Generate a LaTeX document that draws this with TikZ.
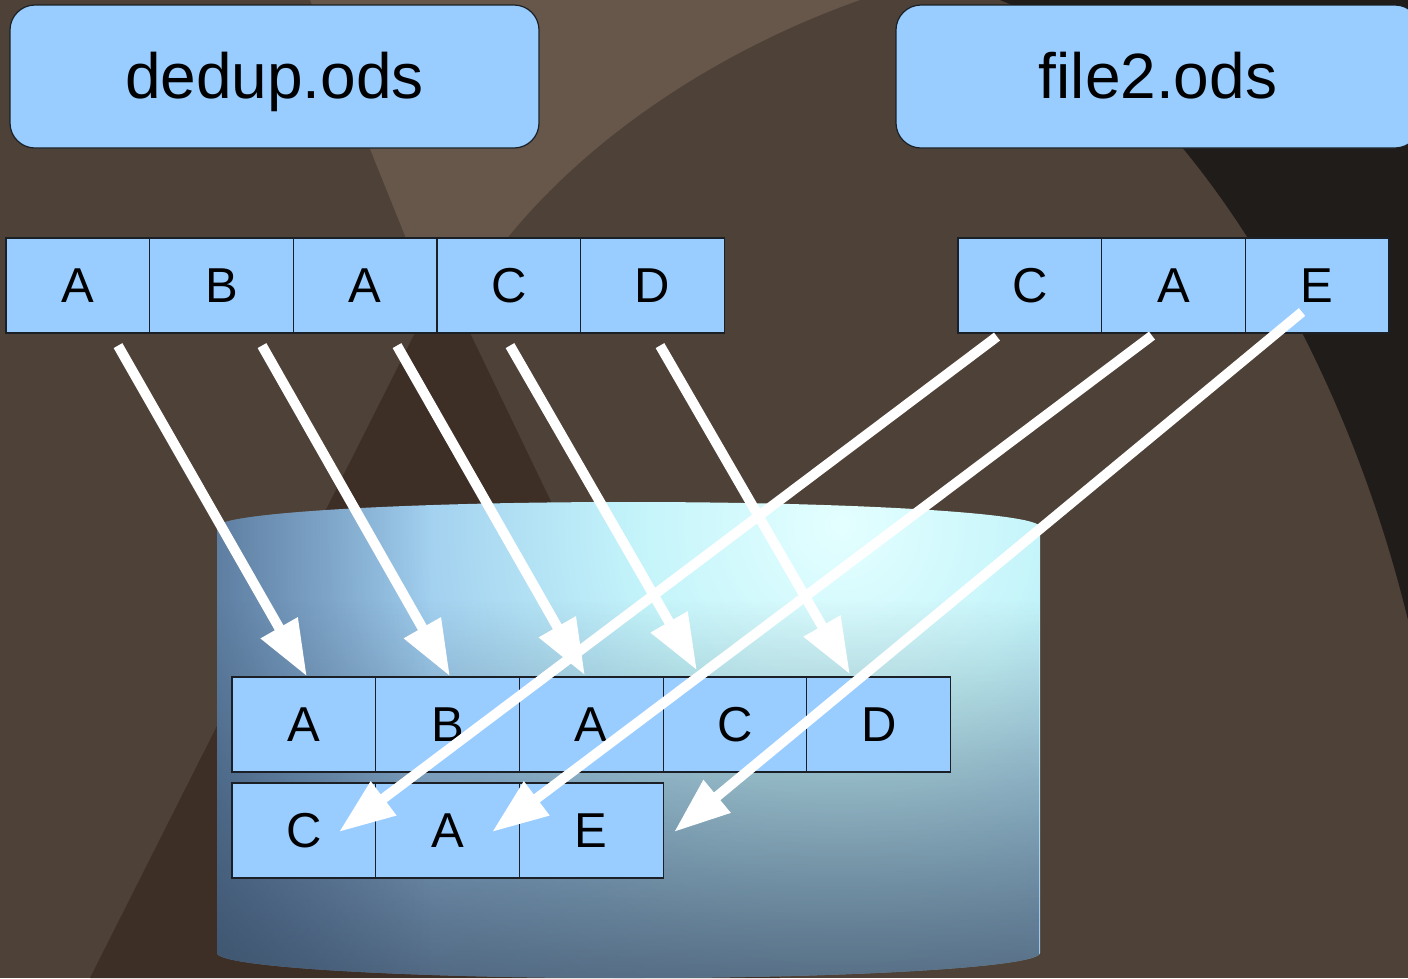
\documentclass[tikz,border=0pt]{standalone}
\usepackage{fontspec}
\setmainfont{Liberation Sans}
\usetikzlibrary{arrows.meta,fadings}
\definecolor{bgbase}{HTML}{4E4137}
\definecolor{bglight}{HTML}{67574A}
\definecolor{bgdark}{HTML}{3D2E26}
\definecolor{bgblack}{HTML}{1F1C1A}
\definecolor{cellfill}{HTML}{99CCFF}
\definecolor{cellline}{HTML}{1A2026}
\definecolor{cg0}{HTML}{E4FFFF}
\definecolor{cg1}{HTML}{C4F4FA}
\definecolor{cg2}{HTML}{9ECCEE}
\definecolor{cg3}{HTML}{88B2E2}
\definecolor{cg4}{HTML}{789ECC}
\definecolor{cg5}{HTML}{6084AE}
\definecolor{cg6}{HTML}{4A648C}
\definecolor{cyldark}{HTML}{2A3442}
\definecolor{cylleft}{HTML}{30465F}
\pgfdeclareradialshading{cylglow}{\pgfpointorigin}{color(0bp)=(cg0); color(6bp)=(cg1); color(13bp)=(cg2); color(20bp)=(cg3); color(28bp)=(cg4); color(37bp)=(cg5); color(50bp)=(cg6)}
\tikzfading[name=mydarkbottom, top color=transparent!100, bottom color=transparent!0]
\tikzfading[name=mydarkleft, left color=transparent!0, right color=transparent!100]
\tikzset{
  cell/.style={draw=cellline, fill=cellfill, line width=1.2pt, minimum width=143.7pt, minimum height=95pt, inner sep=0pt, font=\fontsize{49}{58}\selectfont},
  filebox/.style={draw=cellline, fill=cellfill, line width=1.2pt, rounded corners=25pt, minimum height=143pt, inner sep=0pt, text height=47pt, text depth=4pt, font=\fontsize{64}{76}\selectfont},
  flow/.style={draw=white, line width=10pt, -{Triangle[length=56pt,width=40pt,fill=white]}}
}
\begin{document}
\begin{tikzpicture}[x=1pt,y=-1pt]
\useasboundingbox (0,0) rectangle (1408,978);
% background
\fill[bgbase] (0,0) rectangle (1408,978);
\fill[bglight] (310,0) -- (445,335) .. controls (520,180) and (690,60) .. (860,0) -- cycle;
\fill[bgdark] (415,333) -- (470,333) -- (780,978) -- (90,978) -- cycle;
\fill[bgblack] (1000,0) .. controls (1150,60) and (1330,300) .. (1408,620) -- (1408,0) -- cycle;
% cylinder
\begin{scope}
\clip (217,527) .. controls (217,513.2) and (401.3,502) .. (628.5,502) .. controls (855.7,502) and (1040,513.2) .. (1040,527)
  -- (1040,953) .. controls (1040,966.8) and (855.7,978) .. (628.5,978) .. controls (401.3,978) and (217,966.8) .. (217,953) -- cycle;
\shade[shading=cylglow] (840,525) circle (850);
\fill[cyldark, opacity=0.6, path fading=mydarkbottom] (217,600) rectangle (1040,978);
\fill[cylleft, opacity=0.5, path fading=mydarkleft] (217,500) rectangle (430,978);
\end{scope}
% file boxes
\node[filebox, minimum width=529pt] (dedup) at (274.5,76.5) {dedup.ods};
\node[filebox, minimum width=524pt] (file2) at (1158,76.5) {file2.ods};
% top rows
\node[cell] (t1) at (77.8,285.5) {A};
\node[cell] (t2) at (221.5,285.5) {B};
\node[cell] (t3) at (365.2,285.5) {A};
\node[cell] (t4) at (508.9,285.5) {C};
\node[cell] (t5) at (652.6,285.5) {D};
\node[cell] (u1) at (1029.8,285.5) {C};
\node[cell] (u2) at (1173.5,285.5) {A};
\node[cell] (u3) at (1317.2,285.5) {E};
% bottom rows
\node[cell] (b1) at (303.9,724.5) {A};
\node[cell] (b2) at (447.6,724.5) {B};
\node[cell] (b3) at (591.3,724.5) {A};
\node[cell] (b4) at (735.0,724.5) {C};
\node[cell] (b5) at (878.7,724.5) {D};
\node[cell] (c1) at (303.9,830.5) {C};
\node[cell] (c2) at (447.6,830.5) {A};
\node[cell] (c3) at (591.3,830.5) {E};
% arrows
\draw[flow] ([shift={(40.2,12)}]t1.south) -- ([shift={(3,0)}]b1.north);
\draw[flow] ([shift={(40.5,12)}]t2.south) -- ([shift={(2.4,0)}]b2.north);
\draw[flow] ([shift={(31.8,12)}]t3.south) -- ([shift={(-6.3,-1)}]b3.north);
\draw[flow] ([shift={(1.1,12)}]t4.south) -- ([shift={(-38,-6)}]b4.north);
\draw[flow] ([shift={(7.4,12)}]t5.south) -- ([shift={(-28.7,-2)}]b5.north);
\draw[flow] ([shift={(-32.8,3)}]u1.south) -- ([shift={(35,1.5)}]c1.center);
\draw[flow] ([shift={(-21.5,2)}]u2.south) -- ([shift={(44.4,1.5)}]c2.center);
\draw[flow] ([shift={(-15.2,26.5)}]u3.center) -- ([shift={(82.7,1.5)}]c3.center);
\end{tikzpicture}
\end{document}
